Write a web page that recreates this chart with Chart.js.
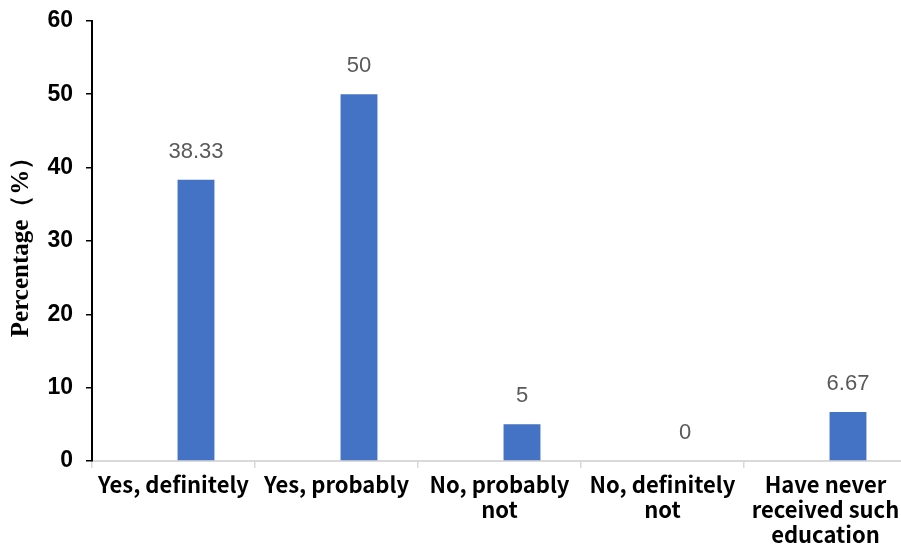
<!DOCTYPE html>
<html>
<head>
<meta charset="utf-8">
<script src="https://cdn.jsdelivr.net/npm/chart.js@4.4.1/dist/chart.umd.min.js"></script>
<style>
  html, body { margin: 0; padding: 0; background: #fff; overflow: hidden; }
  #wrap { position: relative; width: 908px; height: 556px; margin-top: -6px; }
</style>
</head>
<body>
<div id="wrap"><canvas id="chart"></canvas></div>
<script>
// Survey answers and their share of respondents
const categories = [
  'Yes, definitely',
  'Yes, probably',
  ['No, probably', 'not'],
  ['No, definitely', 'not'],
  ['Have never', 'received such', 'education']
];
const percentages = [38.33, 50, 5, 0, 6.67];
// empty companion series so the bars sit in the right-hand slot of each group
const emptySlot = [null, null, null, null, null];
const yTicks = [0, 10, 20, 30, 40, 50, 60];
const yTitle = 'Percentage（%）';

const valueLabels = {
  id: 'valueLabels',
  afterDatasetsDraw(chart) {
    const ctx = chart.ctx;
    const meta = chart.getDatasetMeta(1);
    ctx.save();
    ctx.font = '22px "Liberation Sans", Arial, sans-serif';
    ctx.fillStyle = '#595959';
    ctx.textAlign = 'center';
    ctx.textBaseline = 'bottom';
    meta.data.forEach((bar, i) => {
      ctx.fillText(String(percentages[i]), bar.x, bar.y - 17);
    });
    ctx.restore();
  }
};

new Chart(document.getElementById('chart'), {
  type: 'bar',
  data: {
    labels: categories,
    datasets: [
      { data: emptySlot, backgroundColor: 'rgba(0,0,0,0)' },
      { data: percentages, backgroundColor: '#4472c4' }
    ]
  },
  options: {
    responsive: true,
    maintainAspectRatio: false,
    animation: false,
    events: [],
    categoryPercentage: 0.552,
    barPercentage: 0.82,
    layout: { padding: { top: 14, right: 1, left: 0, bottom: 0 } },
    plugins: { legend: { display: false }, tooltip: { enabled: false } },
    scales: {
      x: {
        grid: { display: true, drawOnChartArea: false, offset: true, color: '#d9d9d9', lineWidth: 1.5, tickLength: 7 },
        border: { color: '#d9d9d9', width: 2 },
        ticks: {
          color: '#000',
          font: { family: '"Noto Sans CJK SC", "Noto Sans", sans-serif', size: 22, weight: 'bold', lineHeight: 1.13 },
          maxRotation: 0,
          autoSkip: false,
          padding: 4
        },
        afterFit(scale) { scale.height = 89; }
      },
      y: {
        min: 0,
        max: 60,
        afterBuildTicks(scale) { scale.ticks = yTicks.map(v => ({ value: v })); },
        grid: { display: true, drawOnChartArea: false, color: '#000', lineWidth: 1.5, tickLength: 6 },
        border: { color: '#000', width: 2 },
        ticks: {
          color: '#000',
          font: { family: '"Liberation Sans", Arial, sans-serif', size: 23, weight: 'bold' },
          padding: 13
        },
        title: {
          display: true,
          text: yTitle,
          color: '#000',
          font: { family: '"Liberation Serif", "Times New Roman", serif', size: 25, weight: 'bold' },
          padding: { top: 7, bottom: 0 }
        },
        afterFit(scale) { scale.width = 92; }
      }
    }
  },
  plugins: [valueLabels]
});
</script>
</body>
</html>
